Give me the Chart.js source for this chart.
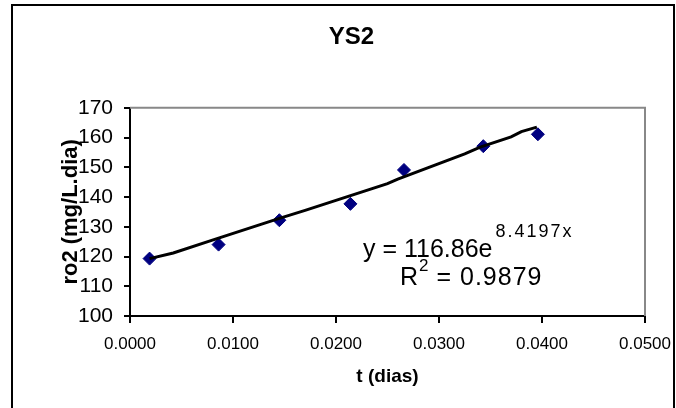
<!DOCTYPE html>
<html>
<head>
<meta charset="utf-8">
<script src="https://cdn.jsdelivr.net/npm/chart.js@4.4.0/dist/chart.umd.min.js"></script>
<style>
  html, body { margin: 0; padding: 0; background: #fff; }
  #wrap { width: 676px; height: 408px; position: relative; }
</style>
</head>
<body>
<div id="wrap"><canvas id="myChart" width="676" height="408"></canvas></div>
<script>
// measured points
var tDias = [0.0019, 0.0086, 0.0145, 0.0214, 0.0266, 0.0343, 0.0396];
var ro2 = [119.3, 124.0, 132.2, 137.7, 149.1, 157.1, 161.1];

// trendline as Excel drew it
var trendT = [0.0019, 0.0042, 0.0080, 0.0145, 0.0170, 0.0250, 0.0260, 0.0325, 0.0340, 0.0370, 0.0380, 0.0395];
var trendY = [119.3, 121.2, 125.5, 132.8, 135.5, 144.5, 146.0, 154.5, 156.8, 160.2, 162.0, 163.5];

var xTicks = [0, 0.01, 0.02, 0.03, 0.04, 0.05];
var yTicks = [100, 110, 120, 130, 140, 150, 160, 170];

var eqText = 'y = 116.86e';
var eqExp = '8.4197x';
var r2Text = ' = 0.9879';

var FONT = '"Liberation Sans", Arial, sans-serif';

function pairs(xs, ys) {
  return xs.map(function (x, i) { return { x: x, y: ys[i] }; });
}

// frame + gray top/right plot border + x tick marks + trendline equation
var decor = {
  id: 'decor',
  beforeDraw: function (chart) {
    var ctx = chart.ctx;
    ctx.save();
    ctx.fillStyle = '#fff';
    ctx.fillRect(0, 0, chart.width, chart.height);
    ctx.restore();
  },
  afterDraw: function (chart) {
    var ctx = chart.ctx;
    var a = chart.chartArea;
    var xs = chart.scales.x;
    ctx.save();
    ctx.strokeStyle = '#000';
    ctx.lineWidth = 2;
    ctx.strokeRect(12, 5, 662, 420);

    // short tick marks below the x axis
    ctx.beginPath();
    xTicks.forEach(function (v) {
      var px = Math.round(xs.getPixelForValue(v));
      ctx.moveTo(px, a.bottom);
      ctx.lineTo(px, a.bottom + 7);
    });
    ctx.stroke();

    ctx.strokeStyle = '#888';
    ctx.lineWidth = 2;
    ctx.beginPath();
    ctx.moveTo(a.left, a.top);
    ctx.lineTo(a.right, a.top);
    ctx.lineTo(a.right, a.bottom);
    ctx.stroke();

    ctx.fillStyle = '#000';
    ctx.textBaseline = 'alphabetic';
    ctx.textAlign = 'left';
    ctx.font = '25px ' + FONT;
    ctx.fillText(eqText, 363, 257);
    var w = ctx.measureText(eqText).width;
    ctx.font = '18px ' + FONT;
    if ('letterSpacing' in ctx) ctx.letterSpacing = '2px';
    ctx.fillText(eqExp, 363 + w + 3, 237);
    if ('letterSpacing' in ctx) ctx.letterSpacing = '0px';

    ctx.font = '25px ' + FONT;
    ctx.fillText('R', 400, 285);
    var wr = ctx.measureText('R').width;
    ctx.font = '17px ' + FONT;
    ctx.fillText('2', 400 + wr + 1, 271);
    var w2 = ctx.measureText('2').width;
    ctx.font = '25px ' + FONT;
    if ('letterSpacing' in ctx) ctx.letterSpacing = '1px';
    ctx.fillText(r2Text, 400 + wr + w2 + 1, 285);
    if ('letterSpacing' in ctx) ctx.letterSpacing = '0px';
    ctx.restore();
  }
};

var ctx = document.getElementById('myChart');
new Chart(ctx, {
  type: 'scatter',
  data: {
    datasets: [{
      type: 'line',
      label: 'trend',
      data: pairs(trendT, trendY),
      borderColor: '#000',
      borderWidth: 3,
      pointRadius: 0,
      tension: 0,
      fill: false,
      order: 0
    }, {
      label: 'ro2',
      data: pairs(tDias, ro2),
      pointStyle: 'rectRot',
      pointRadius: 6.5,
      pointBackgroundColor: '#000080',
      pointBorderColor: '#000080',
      showLine: false,
      order: 1
    }]
  },
  options: {
    responsive: false,
    animation: false,
    layout: { padding: { left: 58, right: 31, top: 0, bottom: 0 } },
    plugins: {
      legend: { display: false },
      tooltip: { enabled: false },
      title: {
        display: true,
        text: 'YS2',
        color: '#000',
        font: { family: FONT, size: 24, weight: 'bold' },
        padding: { top: 23, bottom: 56 }
      }
    },
    scales: {
      x: {
        type: 'linear',
        min: 0,
        max: 0.05,
        afterBuildTicks: function (s) { s.ticks = xTicks.map(function (v) { return { value: v }; }); },
        afterFit: function (s) { s.height = 92; },
        ticks: {
          color: '#000',
          padding: 0,
          font: { family: FONT, size: 17 },
          maxRotation: 0,
          callback: function (v) { return Number(v).toFixed(4); }
        },
        grid: { drawOnChartArea: false, drawTicks: true, tickLength: 18, color: 'rgba(0,0,0,0)' },
        border: { color: '#000', width: 2 },
        title: {
          display: true,
          text: 't (dias)',
          color: '#000',
          font: { family: FONT, size: 19, weight: 'bold' },
          padding: { top: 0, bottom: 20 }
        }
      },
      y: {
        min: 100,
        max: 170,
        afterBuildTicks: function (s) { s.ticks = yTicks.map(function (v) { return { value: v }; }); },
        afterFit: function (s) { s.width = 72; },
        ticks: {
          color: '#000',
          padding: 11,
          font: { family: FONT, size: 21 }
        },
        grid: { drawOnChartArea: false, drawTicks: true, tickLength: 6, color: '#000', lineWidth: 2 },
        border: { color: '#000', width: 2 },
        title: {
          display: true,
          text: 'ro2 (mg/L.dia)',
          color: '#000',
          font: { family: FONT, size: 22, weight: 'bold' },
          padding: 0
        }
      }
    }
  },
  plugins: [decor]
});
</script>
</body>
</html>
